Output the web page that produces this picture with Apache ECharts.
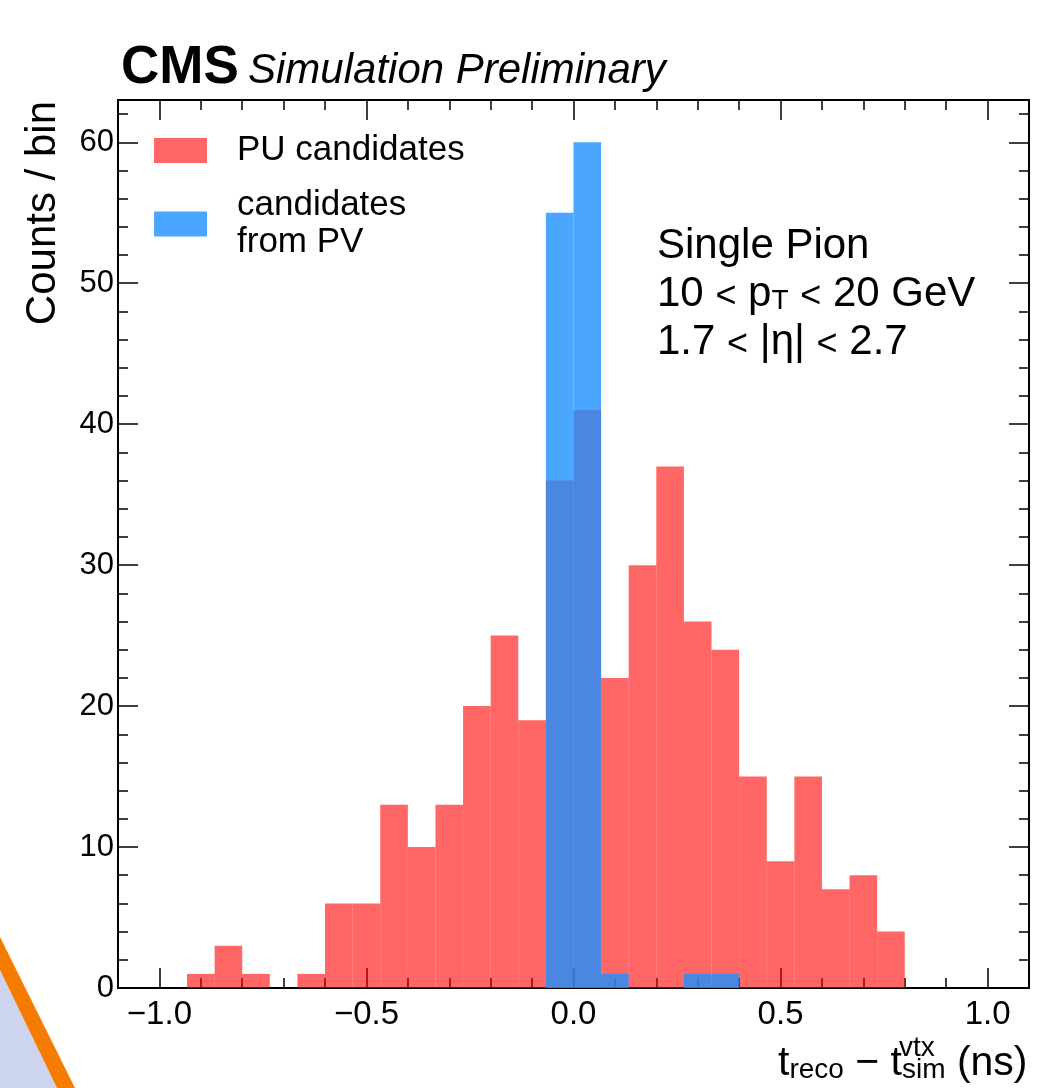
<!DOCTYPE html>
<html>
<head>
<meta charset="utf-8">
<script src="https://cdn.jsdelivr.net/npm/echarts@6/dist/echarts.min.js"></script>
<style>
html,body{margin:0;padding:0;background:#fff;}
#chart{width:1040px;height:1088px;}
</style>
</head>
<body>
<div id="chart"></div>
<script>
// ---- data ----
const binLow = -1.0;            // first bin edge (ns)
const binHigh = 1.0;            // last bin edge (ns)
const nBins = 30;
const puCounts = [0,1,3,1,0,1,6,6,13,10,13,20,25,19,36,41,22,30,37,26,24,15,9,15,7,8,4,0,0,0];
const pvCounts = [0,0,0,0,0,0,0,0,0,0,0,0,0,0,55,60,1,0,0,1,1,0,0,0,0,0,0,0,0,0];
const seriesNames = ['PU candidates', 'candidates\nfrom PV'];
const xMajorTicks = [-1.0, -0.5, 0.0, 0.5, 1.0];
const xMinorTicks = [-1.1,-0.9,-0.8,-0.7,-0.6,-0.4,-0.3,-0.2,-0.1,0.1,0.2,0.3,0.4,0.6,0.7,0.8,0.9,1.1];
const yMajorTicks = [0, 10, 20, 30, 40, 50, 60];
const yMinorTicks = [2,4,6,8,12,14,16,18,22,24,26,28,32,34,36,38,42,44,46,48,52,54,56,58,62];

const binW = (binHigh - binLow) / nBins;
function histData(counts){
  return counts.map((c, i) => [binLow + i*binW, binLow + (i+1)*binW, c]);
}
function renderBin(params, api){
  const p0 = api.coord([api.value(0), api.value(2)]);
  const p1 = api.coord([api.value(1), 0]);
  return {
    type: 'rect',
    shape: {x: p0[0], y: p0[1], width: p1[0]-p0[0], height: p1[1]-p0[1]},
    style: {fill: api.visual('color')}
  };
}

const FAM = '"Liberation Sans", Arial, sans-serif';
const AX = {color: '#000', width: 2};
const minus = v => (v < 0 ? '\u2212' : '') + Math.abs(v).toFixed(1);

function xAx(pos, ticks, len, labels){
  return {
    type: 'value', position: pos, min: -1.1, max: 1.1,
    axisLine: {show: true, onZero: false, lineStyle: AX},
    axisTick: {show: true, inside: true, length: len, customValues: ticks, lineStyle: {color: '#000', width: 1.5}},
    axisLabel: labels ? {show: true, customValues: xMajorTicks, formatter: minus, fontSize: 33, fontFamily: FAM, color: '#000', margin: 10} : {show: false},
    splitLine: {show: false}
  };
}
function yAx(pos, ticks, len, labels){
  return {
    type: 'value', position: pos, min: 0, max: 63,
    axisLine: {show: true, onZero: false, lineStyle: AX},
    axisTick: {show: true, inside: true, length: len, customValues: ticks, lineStyle: {color: '#000', width: 1.5}},
    axisLabel: labels ? {show: true, customValues: yMajorTicks, fontSize: 31, fontFamily: FAM, color: '#000', margin: 4} : {show: false},
    splitLine: {show: false}
  };
}

// text measurement for placing the stacked super/subscript of the x title
const mctx = document.createElement('canvas').getContext('2d');
function tw(str, size){ mctx.font = size + 'px ' + FAM; return mctx.measureText(str).width; }
const XT_LEFT = 778, XT_MAIN = 41, XT_SUB = 28;
const xStack = XT_LEFT + tw('t', XT_MAIN) + tw('reco', XT_SUB) + tw(' \u2212 t', XT_MAIN);

const chart = echarts.init(document.getElementById('chart'), null, {renderer: 'canvas'});
chart.setOption({
  backgroundColor: '#fff',
  animation: false,
  grid: {left: 118, right: 11, top: 100, bottom: 100, containLabel: false},
  xAxis: [
    xAx('bottom', xMajorTicks, 20, true),
    xAx('bottom', xMinorTicks, 10, false),
    xAx('top', xMajorTicks, 20, false),
    xAx('top', xMinorTicks, 10, false)
  ],
  yAxis: [
    yAx('left', yMajorTicks, 20, true),
    yAx('left', yMinorTicks, 10, false),
    yAx('right', yMajorTicks, 20, false),
    yAx('right', yMinorTicks, 10, false)
  ],
  legend: {
    left: 149, top: 127, orient: 'vertical',
    itemWidth: 53, itemHeight: 25, itemGap: 18,
    icon: 'rect',
    textStyle: {fontSize: 35, fontFamily: FAM, color: '#000', lineHeight: 37, padding: [0,0,0,25]},
    data: seriesNames
  },
  series: [
    {name: seriesNames[0], type: 'custom', renderItem: renderBin, data: histData(puCounts),
     encode: {x: [0,1], y: 2}, itemStyle: {color: 'rgba(255,0,0,0.6)'}, z: 2},
    {name: seriesNames[1], type: 'custom', renderItem: renderBin, data: histData(pvCounts),
     encode: {x: [0,1], y: 2}, itemStyle: {color: 'rgba(30,144,255,0.8)'}, z: 3}
  ],
  graphic: [
    // decorative slide corner
    {type: 'polygon', shape: {points: [[0,970],[57,1088],[0,1088]]}, style: {fill: '#cdd5ee'}, silent: true},
    {type: 'polygon', shape: {points: [[0,937],[75,1088],[57,1088],[0,970]]}, style: {fill: '#f57c00'}, silent: true},
    // header
    {type: 'text', left: 121, top: 42, style: {text: 'CMS', font: 'bold 53px ' + FAM, fill: '#000'}},
    {type: 'text', left: 248, top: 50, style: {text: 'Simulation Preliminary', font: 'italic 42px ' + FAM, fill: '#000'}},
    // y-axis title
    {type: 'text', x: 43, y: 101, rotation: Math.PI/2,
     style: {text: 'Counts / bin', font: '42px ' + FAM, fill: '#000', align: 'right', verticalAlign: 'middle'}},
    // x-axis title
    {type: 'text', left: XT_LEFT, top: 1043,
     style: {
       text: '{m|t}{s|reco}{m| \u2212 t}{s|sim}{m| (ns)}',
       rich: {
         m: {font: XT_MAIN + 'px ' + FAM, fill: '#000', verticalAlign: 'bottom', lineHeight: 48},
         s: {font: XT_SUB + 'px ' + FAM, fill: '#000', verticalAlign: 'bottom', lineHeight: 36}
       }
     }},
    {type: 'text', left: xStack - 3, top: 1034, style: {text: 'vtx', font: XT_SUB + 'px ' + FAM, fill: '#000'}},
    // annotation
    {type: 'text', left: 657, top: 225,
     style: {
       text: '{a|Single Pion}\n{a|10 }{l|<}{a| p}{b|T}{a| }{l|<}{a| 20 GeV}\n{a|1.7 }{l|<}{a| |\u03b7| }{l|<}{a| 2.7}',
       rich: {
         a: {font: '42px ' + FAM, fill: '#000', lineHeight: 48, verticalAlign: 'bottom'},
         l: {font: '36px ' + FAM, fill: '#000', lineHeight: 48, verticalAlign: 'bottom'},
         b: {font: '28px ' + FAM, fill: '#000', lineHeight: 40, verticalAlign: 'bottom'}
       }
     }}
  ]
});
</script>
</body>
</html>
